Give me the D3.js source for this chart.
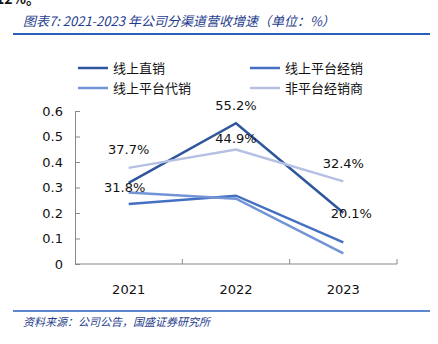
<!DOCTYPE html>
<html>
<head>
<meta charset="utf-8">
<script src="https://cdn.jsdelivr.net/npm/d3@7"></script>
<style>
  body { margin: 0; background: #fff; }
  svg { display: block; }
</style>
</head>
<body>
<svg id="chart" width="438" height="344"></svg>
<script>
// chart data
var years = ['2021', '2022', '2023'];
var seriesNames = ['线上直销', '线上平台经销', '线上平台代销', '非平台经销商'];
var directSales = [0.318, 0.552, 0.201];
var platformDist = [0.235, 0.268, 0.085];
var platformAgent = [0.280, 0.256, 0.042];
var offlineDealers = [0.377, 0.449, 0.324];
var yTicks = [0, 0.1, 0.2, 0.3, 0.4, 0.5, 0.6];

var seriesValues = [directSales, platformDist, platformAgent, offlineDealers];
var colors = ['#2f559c', '#4470c2', '#7293d6', '#b5c0e3'];

var svg = d3.select('#chart');
var cjk = '"Noto Sans CJK SC", "Noto Sans", sans-serif';
var num = '"DejaVu Sans", Verdana, sans-serif';

// cut-off text from previous paragraph
svg.append('text')
    .attr('x', -4).attr('y', 4)
    .attr('font-family', cjk).attr('font-size', 14).attr('font-weight', 'bold')
    .attr('fill', '#111')
    .text('12%。');

// title
svg.append('text')
    .attr('x', 23).attr('y', 26)
    .attr('font-family', cjk).attr('font-size', 13)
    .attr('font-style', 'italic').attr('fill', '#1f3d8c')
    .text('图表7: 2021-2023 年公司分渠道营收增速（单位：%）');

svg.append('line')
    .attr('x1', 13).attr('x2', 430).attr('y1', 34).attr('y2', 34)
    .attr('stroke', '#2a5fbf').attr('stroke-width', 2);

// footer
svg.append('line')
    .attr('x1', 13).attr('x2', 430).attr('y1', 311).attr('y2', 311)
    .attr('stroke', '#2a5fbf').attr('stroke-width', 1.5);

svg.append('text')
    .attr('x', 23).attr('y', 326)
    .attr('font-family', cjk).attr('font-size', 11)
    .attr('font-style', 'italic').attr('fill', '#1f3d8c')
    .text('资料来源：公司公告，国盛证券研究所');

// scales
var xs = d3.scaleBand().domain(years).range([75, 397]);
var ys = d3.scaleLinear().domain([0, 0.6]).range([264, 111]);
var half = xs.bandwidth() / 2;

// axes
var yAxis = svg.append('g')
    .attr('transform', 'translate(75,0)')
    .call(d3.axisLeft(ys).tickValues(yTicks).tickSize(-5).tickPadding(12)
        .tickFormat(function (d) { return d === 0 ? '0' : d3.format('.1f')(d); }));
yAxis.select('.domain').attr('stroke', '#888');
yAxis.selectAll('.tick line').attr('stroke', '#888');
yAxis.selectAll('.tick text')
    .attr('font-family', num).attr('font-size', 13).attr('fill', '#111');

var xAxis = svg.append('g')
    .attr('transform', 'translate(0,264)');
xAxis.append('line')
    .attr('x1', 75).attr('x2', 397).attr('stroke', '#888');
xAxis.selectAll('line.tk').data(years).enter().append('line')
    .attr('class', 'tk')
    .attr('x1', function (d) { return xs(d) + xs.bandwidth(); })
    .attr('x2', function (d) { return xs(d) + xs.bandwidth(); })
    .attr('y1', 0).attr('y2', -5)
    .attr('stroke', '#888');
xAxis.selectAll('text').data(years).enter().append('text')
    .attr('x', function (d) { return xs(d) + half; })
    .attr('y', 30)
    .attr('text-anchor', 'middle')
    .attr('font-family', num).attr('font-size', 13).attr('fill', '#111')
    .text(function (d) { return d; });

// lines
var line = d3.line()
    .x(function (d, i) { return xs(years[i]) + half; })
    .y(function (d) { return ys(d); });

svg.selectAll('path.series').data(seriesValues).enter().append('path')
    .attr('class', 'series')
    .attr('d', line)
    .attr('fill', 'none')
    .attr('stroke', function (d, i) { return colors[i]; })
    .attr('stroke-width', 2.5);

// data labels (direct sales and offline dealers only)
var labelled = [
    { values: directSales, dx: [-4, 0, 8], dy: [5, -18, 1] },
    { values: offlineDealers, dx: [0, 0, 0], dy: [-18, -11, -18] }
];
labelled.forEach(function (s) {
    s.values.forEach(function (v, i) {
        svg.append('text')
            .attr('x', xs(years[i]) + half + s.dx[i])
            .attr('y', ys(v) + s.dy[i])
            .attr('dy', '0.35em')
            .attr('text-anchor', 'middle')
            .attr('font-family', num).attr('font-size', 13).attr('fill', '#111')
            .text(d3.format('.1%')(v));
    });
});

// legend
var legend = svg.append('g');
var legendPos = [[78, 68], [250, 68], [78, 88], [250, 88]];
seriesNames.forEach(function (name, i) {
    var p = legendPos[i];
    legend.append('line')
        .attr('x1', p[0]).attr('x2', p[0] + 30)
        .attr('y1', p[1]).attr('y2', p[1])
        .attr('stroke', colors[i]).attr('stroke-width', 2.5);
    legend.append('text')
        .attr('x', p[0] + 35).attr('y', p[1])
        .attr('dy', '0.35em')
        .attr('font-family', cjk).attr('font-size', 13).attr('fill', '#111')
        .text(name);
});
</script>
</body>
</html>
